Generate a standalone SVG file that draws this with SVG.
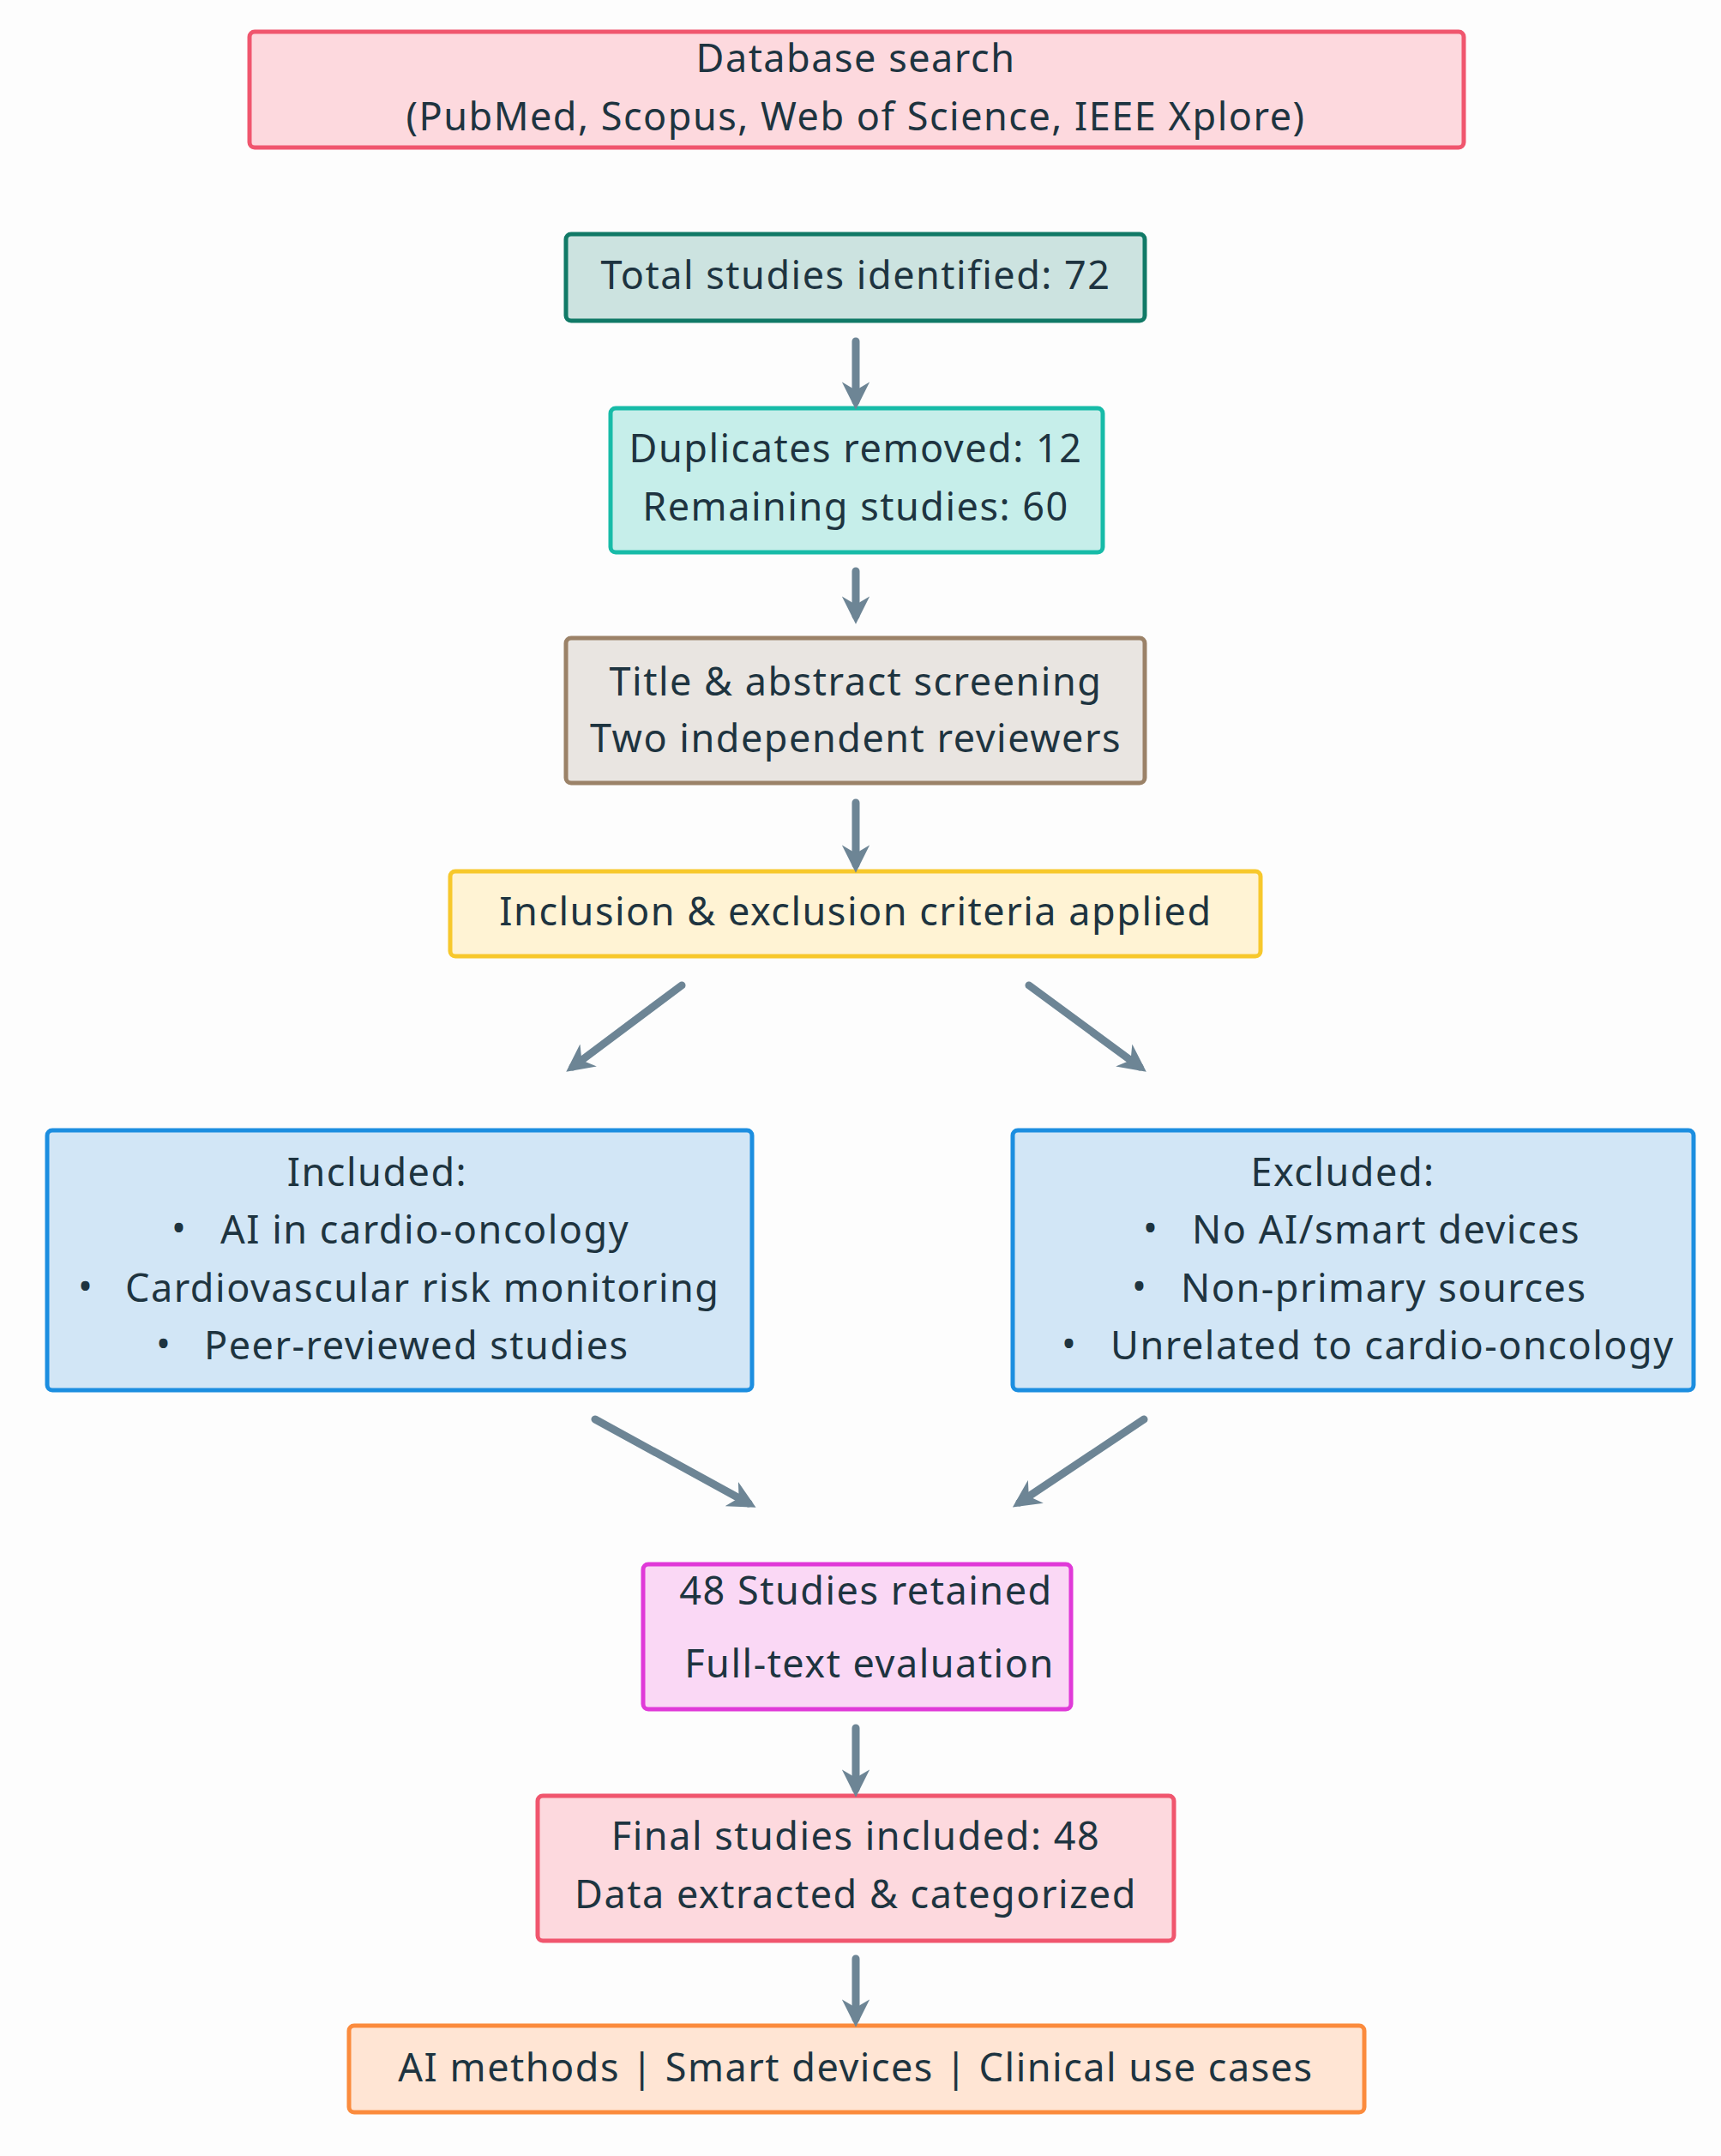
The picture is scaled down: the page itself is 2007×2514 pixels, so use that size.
<svg xmlns="http://www.w3.org/2000/svg" width="2007" height="2514" viewBox="0 0 2007 2514">
<style>
text{font-family:"Noto Sans","Open Sans",sans-serif;font-size:45px;letter-spacing:1.5px;fill:#1e3440;text-anchor:middle;dominant-baseline:middle}
text.s{text-anchor:start}
rect{stroke-width:5}
.c line{stroke:#6d8595;stroke-width:9;stroke-linecap:round}
</style>
<defs><marker id="a" viewBox="0 0 10 10" refX="7" refY="5" markerWidth="3.6" markerHeight="3.6" orient="auto" markerUnits="strokeWidth"><path d="M0,0L10,5L0,10L3,5Z" fill="#6d8595"/></marker></defs>
<rect width="2007" height="2514" fill="#fdfdfd" style="stroke:none"/>
<g id="n1"><rect x="291" y="37" width="1416" height="135" rx="6" fill="#fdd9de" stroke="#f0566e"/><text x="998" y="72">Database search</text><text x="998" y="140">(PubMed, Scopus, Web of Science, IEEE Xplore)</text></g>
<g id="n2"><rect x="660" y="273" width="675" height="101" rx="6" fill="#cce3e0" stroke="#117a67"/><text x="998" y="325">Total studies identified: 72</text></g>
<g id="n3"><rect x="712" y="476" width="574" height="168" rx="6" fill="#c6eeea" stroke="#17bba8"/><text x="998" y="527">Duplicates removed: 12</text><text x="998" y="595">Remaining studies: 60</text></g>
<g id="n4"><rect x="660" y="744" width="675" height="169" rx="6" fill="#e9e5e1" stroke="#9b8268"/><text x="998" y="799">Title &amp; abstract screening</text><text x="998" y="865">Two independent reviewers</text></g>
<g id="n5"><rect x="525" y="1016" width="945" height="99" rx="6" fill="#fff3d4" stroke="#f7c82c"/><text x="998" y="1067">Inclusion &amp; exclusion criteria applied</text></g>
<g id="n6"><rect x="55" y="1318" width="822" height="303" rx="6" fill="#d2e6f6" stroke="#1c8ee0"/><text x="440" y="1371">Included:</text>
<text class="s" x="200" y="1436">•</text><text class="s" x="257" y="1438">AI in cardio-oncology</text>
<text class="s" x="91" y="1504">•</text><text class="s" x="146" y="1506">Cardiovascular risk monitoring</text>
<text class="s" x="182" y="1571">•</text><text class="s" x="238" y="1573">Peer-reviewed studies</text></g>
<g id="n7"><rect x="1181" y="1318" width="794" height="303" rx="6" fill="#d2e6f6" stroke="#1c8ee0"/><text x="1566" y="1371">Excluded:</text>
<text class="s" x="1333" y="1436">•</text><text class="s" x="1390" y="1438">No AI/smart devices</text>
<text class="s" x="1320" y="1504">•</text><text class="s" x="1377" y="1506">Non-primary sources</text>
<text class="s" x="1238" y="1571">•</text><text class="s" x="1295" y="1573">Unrelated to cardio-oncology</text></g>
<g id="n8"><rect x="750" y="1824" width="499" height="169" rx="6" fill="#fad8f5" stroke="#e03ad8"/><text x="1010" y="1859">48 Studies retained</text><text x="1014" y="1944">Full-text evaluation</text></g>
<g id="n9"><rect x="627" y="2094" width="742" height="169" rx="6" fill="#fdd9de" stroke="#f0566e"/><text x="998" y="2145">Final studies included: 48</text><text x="998" y="2213">Data extracted &amp; categorized</text></g>
<g id="n10"><rect x="407" y="2362" width="1184" height="101" rx="6" fill="#ffe5d4" stroke="#fb8b3d"/><text x="998" y="2415">AI methods | Smart devices | Clinical use cases</text></g>
<g class="c" id="connectors">
<line x1="998" y1="398" x2="998" y2="468" marker-end="url(#a)"/>
<line x1="998" y1="666" x2="998" y2="718" marker-end="url(#a)"/>
<line x1="998" y1="936" x2="998" y2="1008" marker-end="url(#a)"/>
<line x1="795" y1="1149" x2="668" y2="1244" marker-end="url(#a)"/>
<line x1="1200" y1="1149" x2="1329" y2="1244" marker-end="url(#a)"/>
<line x1="694" y1="1655" x2="873" y2="1753" marker-end="url(#a)"/>
<line x1="1334" y1="1655" x2="1189" y2="1752" marker-end="url(#a)"/>
<line x1="998" y1="2015" x2="998" y2="2086" marker-end="url(#a)"/>
<line x1="998" y1="2284" x2="998" y2="2354" marker-end="url(#a)"/>
</g>
</svg>
